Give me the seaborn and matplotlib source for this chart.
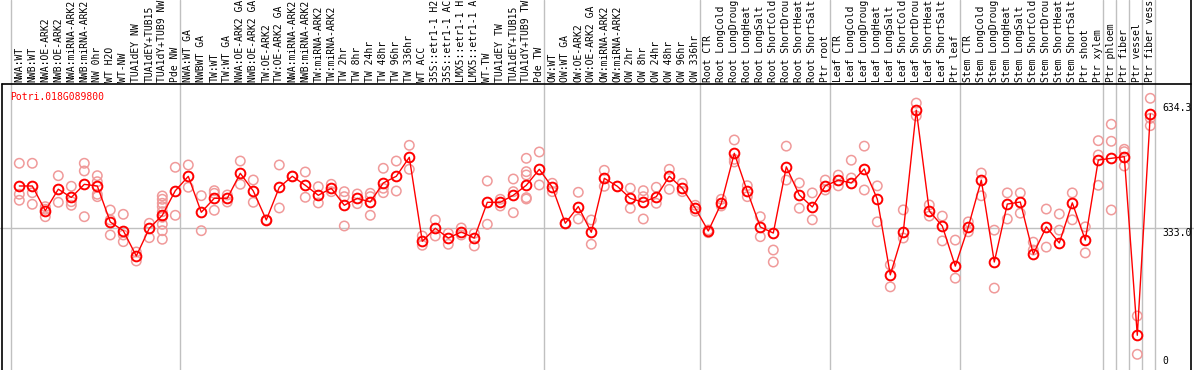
import matplotlib
matplotlib.use("Agg")
import matplotlib.pyplot as plt
import seaborn as sns
import pandas as pd

gene = "Potri.018G089800"

labels = [
    "NWA:WT", "NWB:WT", "NWA:OE-ARK2", "NWB:OE-ARK2", "NWA:miRNA-ARK2", "NWB:miRNA-ARK2",
    "NW 0hr", "WT H2O", "WT-NW", "TUA1dEY NW", "TUA1dEY+TUB15", "TUA1dY+TUB9 NW", "Pde NW",
    "NWA:WT GA", "NWBWT GA", "TW:WT", "TW:WT GA", "NWA:OE-ARK2 GA", "NWB:OE-ARK2 GA",
    "TW:OE-ARK2", "TW:OE-ARK2 GA", "NWA:miRNA-ARK2", "NWB:miRNA-ARK2", "TW:miRNA-ARK2",
    "TW:miRNA-ARK2", "TW 2hr", "TW 8hr", "TW 24hr", "TW 48hr", "TW 96hr", "TW 336hr",
    "WT ACC", "35S::etr1-1 H2", "35S::etr1-1 AC", "LMX5::etr1-1 H", "LMX5::etr1-1 A",
    "WT-TW", "TUA1dEY TW", "TUA1dEY+TUB15", "TUA1dY+TUB9 TW", "Pde TW",
    "OW:WT", "OW:WT GA", "OW:OE-ARK2", "OW:OE-ARK2 GA", "OW:miRNA-ARK2", "OW:miRNA-ARK2",
    "OW 2hr", "OW 8hr", "OW 24hr", "OW 48hr", "OW 96hr", "OW 336hr",
    "Root CTR", "Root LongCold", "Root LongDroug", "Root LongHeat", "Root LongSalt",
    "Root ShortCold", "Root ShortDrou", "Root ShortHeat", "Root ShortSalt", "Ptr root",
    "Leaf CTR", "Leaf LongCold", "Leaf LongDroug", "Leaf LongHeat", "Leaf LongSalt",
    "Leaf ShortCold", "Leaf ShortDrou", "Leaf ShortHeat", "Leaf ShortSalt", "Ptr leaf",
    "Stem CTR", "Stem LongCold", "Stem LongDroug", "Stem LongHeat", "Stem LongSalt",
    "Stem ShortCold", "Stem ShortDrou", "Stem ShortHeat", "Stem ShortSalt", "Ptr shoot",
    "Ptr xylem", "Ptr phloem", "Ptr fiber", "Ptr vessel", "Ptr fiber vess",
]

group_sizes = [13, 28, 12, 10, 10, 11, 1, 1, 1, 1]

means = [
    433.7, 433.7, 374.0, 426.0, 406.0, 437.7, 433.7, 346.7, 325.7, 264.5, 331.5, 362.9, 422.3,
    457.0, 370.2, 404.0, 404.0, 464.4, 421.6, 351.6, 430.6, 457.2, 435.4, 411.3, 428.2, 387.1,
    404.0, 395.0, 441.0, 457.2, 503.0, 300.1, 331.5, 308.0, 322.6, 308.0, 394.3, 394.3, 411.3,
    435.4, 474.0,
    430.6, 343.6, 384.0, 321.9, 452.3, 433.0, 404.0, 394.3, 407.9, 457.2, 428.2, 379.8,
    325.0, 391.9, 512.7, 420.9, 334.7, 320.0, 480.0, 412.0, 383.0, 434.0,
    448.0, 441.0, 475.0, 402.0, 219.0, 323.0, 617.0, 373.0, 337.0, 240.0,
    335.0, 448.0, 250.0, 390.0, 395.0, 269.0, 335.0, 296.0, 393.0, 303.0, 496.4,
    500.6, 504.5, 73.0, 607.7,
]

replicates = [
    [488.6, 413.7, 399.2], [488.6, 417.5, 389.5], [383.7, 377.4, 359.5], [458.6, 394.3],
    [433.0, 395.8, 387.1], [488.6, 470.0, 359.5], [458.6, 444.1, 413.7, 407.9],
    [375.7, 351.6, 315.3], [365.3, 315.3, 299.2], [274.3, 252.5], [343.6, 308.8],
    [409.6, 401.6, 391.9, 383.7, 371.6, 358.1, 341.2, 325.7, 305.0], [478.9, 362.9],
    [484.5, 430.6], [410.3, 325.7], [422.4, 416.0, 375.0], [412.0, 395.0], [494.0, 437.8],
    [448.2, 394.3], [351.6], [484.5, 380.6], [457.2], [467.5, 406.4], [432.0, 392.7],
    [437.8, 420.0], [420.0, 407.9, 337.1], [414.4, 391.0], [416.0, 407.9, 362.9],
    [476.5, 428.2, 417.5], [494.0, 421.6], [532.0, 474.0], [312.9, 290.5], [351.6, 312.9],
    [319.4, 292.9], [332.3, 315.3], [319.4, 288.8], [445.8, 341.2], [401.6, 385.4],
    [450.6, 420.0, 369.2], [500.6, 468.3, 460.3, 405.5, 402.3], [515.9, 436.1],
    [440.3, 420.0], [343.6], [418.5, 354.0], [351.6, 292.9], [471.6, 433.0], [433.0],
    [428.2, 379.8], [422.4, 407.9, 354.0], [430.6, 391.9], [474.0, 425.7], [440.3, 420.0],
    [387.1, 372.6],
    [327.4, 320.9], [401.6, 385.4], [544.9, 498.2, 491.7], [434.4, 407.9], [359.5, 311.2],
    [279.0, 250.0], [530.0, 448.0], [441.0, 380.0], [417.0, 352.0], [448.0, 424.0],
    [460.0, 434.0], [496.0, 453.0], [530.0, 424.0], [434.0, 347.0], [243.0, 190.0],
    [376.0, 308.0], [634.0, 603.0], [388.0, 361.0], [361.0, 301.0], [303.0, 211.0],
    [347.0, 323.0], [465.0, 410.0], [327.0, 187.0], [417.0, 354.0], [417.0, 368.0],
    [298.0, 279.0], [378.0, 286.0], [366.0, 327.0], [417.0, 352.0], [335.0, 272.0],
    [543.2, 508.6, 435.4],
    [582.8, 541.7, 375.7], [522.4, 516.6, 482.0], [119.6, 27.0], [645.6, 597.3, 579.4],
]

scale_labels = [634.3, 333.0, 0]

# ---------------------------------------------------------------- layout
sns.set_theme(style="white")
plt.rcParams["font.family"] = ["DejaVu Sans Mono", "DejaVu Sans"]

W, H = 1194, 370
fig = plt.figure(figsize=(W / 100, H / 100), dpi=100)
ax = fig.add_axes([0, 0, 1, 1])

X0, DX = 19.3, 13.0       # pixel of first sample, pixel step
Y0, SY = 365.5, 0.4139    # pixel of value 0, pixel per unit


def kx(px):
    return (px - X0) / DX


def vy(py):
    return (Y0 - py) / SY


pos = list(range(len(means)))
mean_df = pd.DataFrame({"pos": pos, "value": means})
rep_df = pd.DataFrame(
    [(i, v) for i, vals in enumerate(replicates) for v in vals], columns=["pos", "value"]
)

grey = "#c0c0c0"
rep_color = "#f09a9a"

# group separators (full height)
bounds = [-0.5]
acc = 0
for g in group_sizes:
    acc += g
    bounds.append(acc - 0.5)
for b in bounds:
    ax.axvline(b - 0.14, color=grey, lw=1, zorder=0)

# horizontal reference line at the middle label
ax.axhline(scale_labels[1], color=grey, lw=1, zorder=0)

# borders
top_v = vy(84)
ax.plot([kx(2), kx(1191)], [top_v, top_v], color="black", lw=1.2, zorder=1)
ax.plot([kx(2), kx(2)], [top_v, vy(H)], color="black", lw=1.2, zorder=1)
ax.plot([kx(1191), kx(1191)], [vy(0), vy(H)], color="black", lw=1.2, zorder=1)

# replicates
sns.scatterplot(data=rep_df, x="pos", y="value", ax=ax, color=rep_color,
                s=46, marker="o", linewidth=1.1, zorder=3, legend=False)
coll = ax.collections[-1]
coll.set_facecolor("none")
coll.set_edgecolor(rep_color)

# means
sns.lineplot(data=mean_df, x="pos", y="value", ax=ax, color="red", lw=1,
             marker="o", markersize=7, markerfacecolor="none",
             markeredgecolor="red", markeredgewidth=1.4, zorder=4, legend=False)
ax.set_xlim(kx(0), kx(W))
ax.set_ylim(vy(H), vy(0))
ax.axis("off")

# sample labels
for i, lab in enumerate(labels):
    ax.text(i, vy(82), lab, rotation=90, ha="center", va="bottom",
            fontsize=7, color="black", clip_on=False)

# gene name
ax.text(kx(10), vy(97), gene, ha="left", va="center", fontsize=7, color="red")

# scale labels
ax.text(kx(1162), scale_labels[0], f"{scale_labels[0]:.1f}", ha="left", va="top",
        fontsize=7, color="black")
ax.text(kx(1162), scale_labels[1], f"{scale_labels[1]:.1f}", ha="left", va="top",
        fontsize=7, color="black")
ax.text(kx(1162), scale_labels[2], f"{scale_labels[2]}", ha="left", va="bottom",
        fontsize=7, color="black")

fig.savefig("out.png", dpi=100)
